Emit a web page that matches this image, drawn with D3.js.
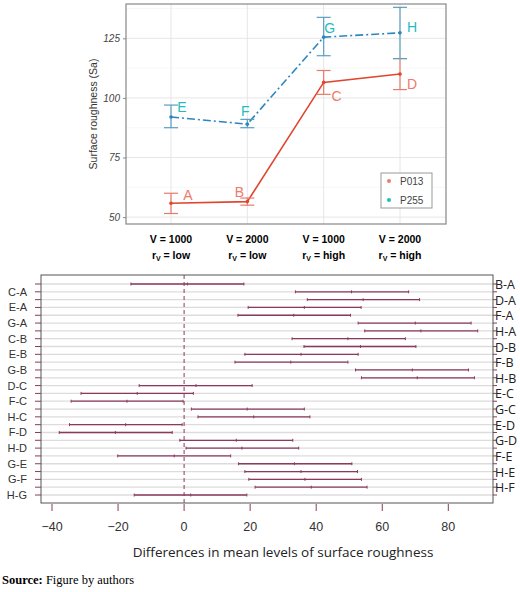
<!DOCTYPE html><html><head><meta charset="utf-8"><script src="https://cdn.jsdelivr.net/npm/d3@7"></script>
<style>body{margin:0;background:#fff}svg{font-family:Arial,"Liberation Sans",sans-serif}</style></head><body><svg id="c" width="520" height="592"></svg>
<script>
const groupsTop=["V = 1000","V = 2000","V = 1000","V = 2000"];
const rvTop=["low","low","high","high"];
const p013=[55.8,56.5,106.5,110.0];
const p013Lo=[51.5,55.0,101.5,103.5];
const p013Hi=[60.0,58.0,111.5,116.5];
const p013Lab=["A","B","C","D"];
const p255=[92.0,89.0,125.5,127.3];
const p255Lo=[87.5,87.5,117.7,116.5];
const p255Hi=[97.0,91.0,133.8,138.0];
const p255Lab=["E","F","G","H"];
const comps=["B-A","C-A","D-A","E-A","F-A","G-A","H-A","C-B","D-B","E-B","F-B","G-B","H-B","D-C","E-C","F-C","G-C","H-C","E-D","F-D","G-D","H-D","F-E","G-E","H-E","G-F","H-F","H-G"];
const diffLwr=[-16.1,33.7,37.3,19.4,16.3,52.7,54.7,32.7,36.3,18.4,15.4,51.9,53.7,-13.6,-31.2,-34.2,2.2,4.2,-34.7,-37.8,-1.3,0.6,-20.1,16.5,18.4,19.6,21.5,-15.1];
const diffMid=[1.0,50.7,54.2,36.4,33.2,70.0,71.7,49.6,53.4,35.4,32.3,69.1,70.6,3.6,-14.2,-17.3,19.1,21.1,-17.7,-20.8,15.8,17.5,-3.0,33.4,35.4,36.6,38.5,2.0];
const diffUpr=[18.1,68.0,71.3,53.6,50.4,86.9,88.9,67.0,70.2,52.7,49.6,86.1,87.9,20.6,2.8,-0.3,36.4,38.1,-0.6,-3.6,32.9,34.7,14.1,50.8,52.5,53.7,55.4,19.0];
const xTicks=[-40,-20,0,20,40,60,80];

const svg=d3.select("#c");
const L=126,R=446,T=4,B=224;
const x=d3.scalePoint().domain([0,1,2,3]).range([171,400]);
const y=d3.scaleLinear().domain([47.1,139.4]).range([B,T]);
const g=svg.append("g");
[62.5,87.5,112.5,137.5].forEach(v=>g.append("line").attr("x1",L).attr("x2",R).attr("y1",y(v)).attr("y2",y(v)).attr("stroke","#f2f2f2").attr("stroke-width",0.6));
[50,75,100,125].forEach(v=>g.append("line").attr("x1",L).attr("x2",R).attr("y1",y(v)).attr("y2",y(v)).attr("stroke","#e6e6e6").attr("stroke-width",1));
[0,1,2,3].forEach(i=>g.append("line").attr("x1",x(i)).attr("x2",x(i)).attr("y1",T).attr("y2",B).attr("stroke","#e6e6e6"));
g.append("rect").attr("x",L).attr("y",T).attr("width",R-L).attr("height",B-T).attr("fill","none").attr("stroke","#888").attr("stroke-width",1.2);
const yAx=g.append("g").attr("transform",`translate(${L},0)`).call(d3.axisLeft(y).tickValues([50,75,100,125]).tickSize(3));
yAx.select(".domain").remove();
yAx.selectAll("text").attr("font-size",10).attr("fill","#444").attr("font-style","italic");
yAx.selectAll("line").attr("stroke","#888");
g.append("text").attr("transform",`translate(97,${(T+B)/2}) rotate(-90)`).attr("text-anchor","middle").attr("font-size",10.5).attr("fill","#333").text("Surface roughness  (Sa)");
function series(vals,lo,hi,labs,lineCol,barCol,labCol,dash,loff){
  const idx=[0,1,2,3];
  g.append("path").datum(idx).attr("fill","none").attr("stroke",lineCol).attr("stroke-width",1.6).attr("stroke-dasharray",dash)
   .attr("d",d3.line().x(i=>x(i)).y(i=>y(vals[i])));
  idx.forEach(i=>{
    const bg=g.append("g").attr("stroke",barCol).attr("stroke-width",1.2);
    bg.append("line").attr("x1",x(i)).attr("x2",x(i)).attr("y1",y(lo[i])).attr("y2",y(hi[i]));
    bg.append("line").attr("x1",x(i)-7).attr("x2",x(i)+7).attr("y1",y(lo[i])).attr("y2",y(lo[i]));
    bg.append("line").attr("x1",x(i)-7).attr("x2",x(i)+7).attr("y1",y(hi[i])).attr("y2",y(hi[i]));
    g.append("circle").attr("cx",x(i)).attr("cy",y(vals[i])).attr("r",1.8).attr("fill",lineCol);
    g.append("text").attr("x",x(i)+loff[i][0]).attr("y",y(vals[i])+loff[i][1]).attr("font-size",14).attr("fill",labCol).attr("text-anchor","middle").text(labs[i]);
  });
}
series(p013,p013Lo,p013Hi,p013Lab,"#e0452e","#e87a6a","#ee7a6c",null,[[17,-3],[-8,-5],[13,19],[12,15]]);
series(p255,p255Lo,p255Hi,p255Lab,"#2b86c0","#5a9ec0","#1fbcc0","8,3,2,3",[[11,-5],[-2,-8],[6,-4],[12,-1]]);
g.append("rect").attr("x",381).attr("y",173).attr("width",51).attr("height",35).attr("fill","#fff").attr("stroke","#999");
[["P013","#ee7a6c"],["P255","#1fbcc0"]].forEach((d,i)=>{
  g.append("circle").attr("cx",389).attr("cy",181+i*19).attr("r",2).attr("fill",d[1]);
  g.append("text").attr("x",400).attr("y",185+i*19).attr("font-size",10).attr("fill","#444").text(d[0]);
});
groupsTop.forEach((t,i)=>{
  g.append("text").attr("x",x(i)).attr("y",243).attr("text-anchor","middle").attr("font-size",10.5).attr("font-weight","bold").text(t);
  const tt=g.append("text").attr("x",x(i)).attr("y",259).attr("text-anchor","middle").attr("font-size",10.5).attr("font-weight","bold");
  tt.append("tspan").text("r");tt.append("tspan").attr("font-size",7).attr("dy",2).text("V");tt.append("tspan").attr("dy",-2).text(" = "+rvTop[i]);
});
const bL=41,bR=493,bT=275,bB=503;
const bx=d3.scaleLinear().domain([-40,80]).range([52,448.3]);
const by=d3.scalePoint().domain(comps).range([284,495]);
const h=svg.append("g");
comps.forEach(c=>h.append("line").attr("x1",bL).attr("x2",bR).attr("y1",by(c)).attr("y2",by(c)).attr("stroke","#dcdcdc").attr("stroke-width",1.3));
h.append("line").attr("x1",bx(0)).attr("x2",bx(0)).attr("y1",bT).attr("y2",bB).attr("stroke","#8b3a5c").attr("stroke-dasharray","4,3").attr("stroke-width",1);
comps.forEach((c,i)=>{
  const yy=by(c),col="#8b3a5c";
  h.append("line").attr("x1",bx(diffLwr[i])).attr("x2",bx(diffUpr[i])).attr("y1",yy).attr("y2",yy).attr("stroke",col).attr("stroke-width",1.3);
  [diffLwr[i],diffMid[i],diffUpr[i]].forEach(v=>h.append("line").attr("x1",bx(v)).attr("x2",bx(v)).attr("y1",yy-1.5).attr("y2",yy+1.5).attr("stroke",col));
  h.append("line").attr("x1",bL-6).attr("x2",bL).attr("y1",yy).attr("y2",yy).attr("stroke","#8b3a5c");
  h.append("line").attr("x1",bR).attr("x2",bR+4).attr("y1",yy).attr("y2",yy).attr("stroke","#8b3a5c");
  if(i%2===1) h.append("text").attr("x",27).attr("y",yy+4).attr("text-anchor","end").attr("font-size",11).attr("fill","#333").text(c);
  else h.append("text").attr("x",495).attr("y",yy+5).attr("font-size",12.5).attr("fill","#222").attr("font-family","'Open Sans',sans-serif").text(c);
});
h.append("rect").attr("x",bL).attr("y",bT).attr("width",bR-bL).attr("height",bB-bT).attr("fill","none").attr("stroke","#555").attr("stroke-width",1);
xTicks.forEach(t=>{
  h.append("line").attr("x1",bx(t)).attr("x2",bx(t)).attr("y1",bB+1).attr("y2",bB+8).attr("stroke","#8b3a5c");
  h.append("text").attr("x",bx(t)).attr("y",531).attr("text-anchor","middle").attr("font-size",12.5).attr("fill","#333").text(t<0?"\u2212"+(-t):t);
});
h.append("text").attr("x",283).attr("y",557).attr("text-anchor","middle").attr("font-size",13.5).attr("fill","#222").attr("font-family","'Open Sans',sans-serif").text("Differences in mean levels of surface roughness");
const s=svg.append("text").attr("x",2).attr("y",584).attr("font-family","'Liberation Serif',serif").attr("font-size",12.5);
s.append("tspan").attr("font-weight","bold").text("Source:");s.append("tspan").text(" Figure by authors");
</script></body></html>
